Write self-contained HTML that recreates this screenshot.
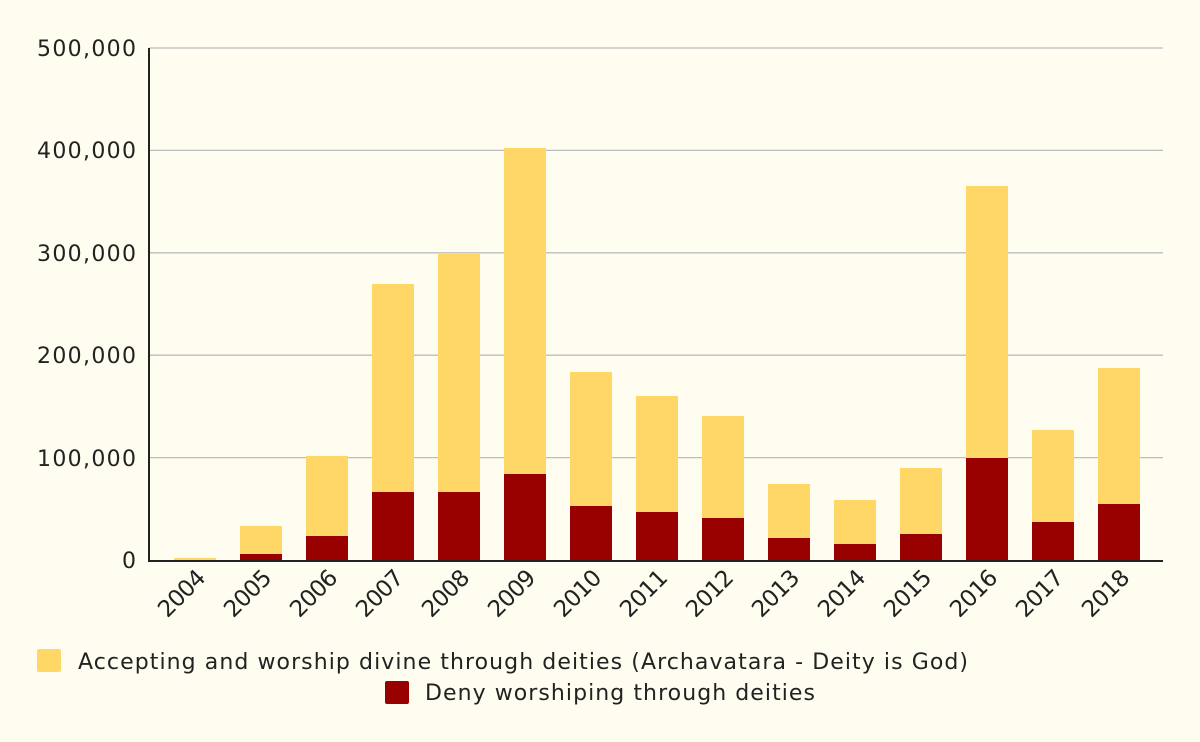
<!DOCTYPE html>
<html><head><style>
body{margin:0;background:#fffdef;}
svg{display:block;font-family:"DejaVu Sans","Liberation Sans",sans-serif;}
</style></head><body>
<svg width="1200" height="742" viewBox="0 0 1200 742">
<rect width="1200" height="742" fill="#fffdef"/>
<g stroke="#bdbdbd" stroke-width="1.3">
<line x1="149" x2="1163" y1="48" y2="48"/>
<line x1="149" x2="1163" y1="150.4" y2="150.4"/>
<line x1="149" x2="1163" y1="252.8" y2="252.8"/>
<line x1="149" x2="1163" y1="355.2" y2="355.2"/>
<line x1="149" x2="1163" y1="457.6" y2="457.6"/>
</g>
<g font-size="22" fill="#222" text-anchor="end">
<text x="136" y="56" textLength="99" lengthAdjust="spacing">500,000</text>
<text x="136" y="158" textLength="99" lengthAdjust="spacing">400,000</text>
<text x="136" y="261" textLength="99" lengthAdjust="spacing">300,000</text>
<text x="136" y="363" textLength="99" lengthAdjust="spacing">200,000</text>
<text x="136" y="466" textLength="99" lengthAdjust="spacing">100,000</text>
<text x="136" y="568">0</text>
</g>
<g fill="#fed766">
<rect x="174" y="558" width="42" height="3"/>
<rect x="240" y="526" width="42" height="35"/>
<rect x="306" y="456" width="42" height="105"/>
<rect x="372" y="284" width="42" height="277"/>
<rect x="438" y="254" width="42" height="307"/>
<rect x="504" y="148" width="42" height="413"/>
<rect x="570" y="372" width="42" height="189"/>
<rect x="636" y="396" width="42" height="165"/>
<rect x="702" y="416" width="42" height="145"/>
<rect x="768" y="484" width="42" height="77"/>
<rect x="834" y="500" width="42" height="61"/>
<rect x="900" y="468" width="42" height="93"/>
<rect x="966" y="186" width="42" height="375"/>
<rect x="1032" y="430" width="42" height="131"/>
<rect x="1098" y="368" width="42" height="193"/>
</g>
<g fill="#990000">
<rect x="240" y="554" width="42" height="7"/>
<rect x="306" y="536" width="42" height="25"/>
<rect x="372" y="492" width="42" height="69"/>
<rect x="438" y="492" width="42" height="69"/>
<rect x="504" y="474" width="42" height="87"/>
<rect x="570" y="506" width="42" height="55"/>
<rect x="636" y="512" width="42" height="49"/>
<rect x="702" y="518" width="42" height="43"/>
<rect x="768" y="538" width="42" height="23"/>
<rect x="834" y="544" width="42" height="17"/>
<rect x="900" y="534" width="42" height="27"/>
<rect x="966" y="458" width="42" height="103"/>
<rect x="1032" y="522" width="42" height="39"/>
<rect x="1098" y="504" width="42" height="57"/>
</g>
<line x1="149" x2="149" y1="48" y2="561" stroke="#222" stroke-width="2"/>
<line x1="148" x2="1163" y1="561" y2="561" stroke="#222" stroke-width="2"/>
<g font-size="23" fill="#222" text-anchor="end">
<text x="207" y="579" transform="rotate(-45 207 579)" textLength="56" lengthAdjust="spacing">2004</text>
<text x="273" y="579" transform="rotate(-45 273 579)" textLength="56" lengthAdjust="spacing">2005</text>
<text x="339" y="579" transform="rotate(-45 339 579)" textLength="56" lengthAdjust="spacing">2006</text>
<text x="405" y="579" transform="rotate(-45 405 579)" textLength="56" lengthAdjust="spacing">2007</text>
<text x="471" y="579" transform="rotate(-45 471 579)" textLength="56" lengthAdjust="spacing">2008</text>
<text x="537" y="579" transform="rotate(-45 537 579)" textLength="56" lengthAdjust="spacing">2009</text>
<text x="603" y="579" transform="rotate(-45 603 579)" textLength="56" lengthAdjust="spacing">2010</text>
<text x="669" y="579" transform="rotate(-45 669 579)" textLength="56" lengthAdjust="spacing">2011</text>
<text x="735" y="579" transform="rotate(-45 735 579)" textLength="56" lengthAdjust="spacing">2012</text>
<text x="801" y="579" transform="rotate(-45 801 579)" textLength="56" lengthAdjust="spacing">2013</text>
<text x="867" y="579" transform="rotate(-45 867 579)" textLength="56" lengthAdjust="spacing">2014</text>
<text x="933" y="579" transform="rotate(-45 933 579)" textLength="56" lengthAdjust="spacing">2015</text>
<text x="999" y="579" transform="rotate(-45 999 579)" textLength="56" lengthAdjust="spacing">2016</text>
<text x="1065" y="579" transform="rotate(-45 1065 579)" textLength="56" lengthAdjust="spacing">2017</text>
<text x="1131" y="579" transform="rotate(-45 1131 579)" textLength="56" lengthAdjust="spacing">2018</text>
</g>
<rect x="37" y="649" width="24" height="23" rx="2" fill="#fed766"/>
<text x="78" y="669" font-size="22" fill="#222" textLength="890" lengthAdjust="spacing">Accepting and worship divine through deities (Archavatara - Deity is God)</text>
<rect x="385" y="681" width="24" height="23" rx="2" fill="#990000"/>
<text x="425" y="700" font-size="22" fill="#222" textLength="390" lengthAdjust="spacing">Deny worshiping through deities</text>
</svg>
</body></html>
